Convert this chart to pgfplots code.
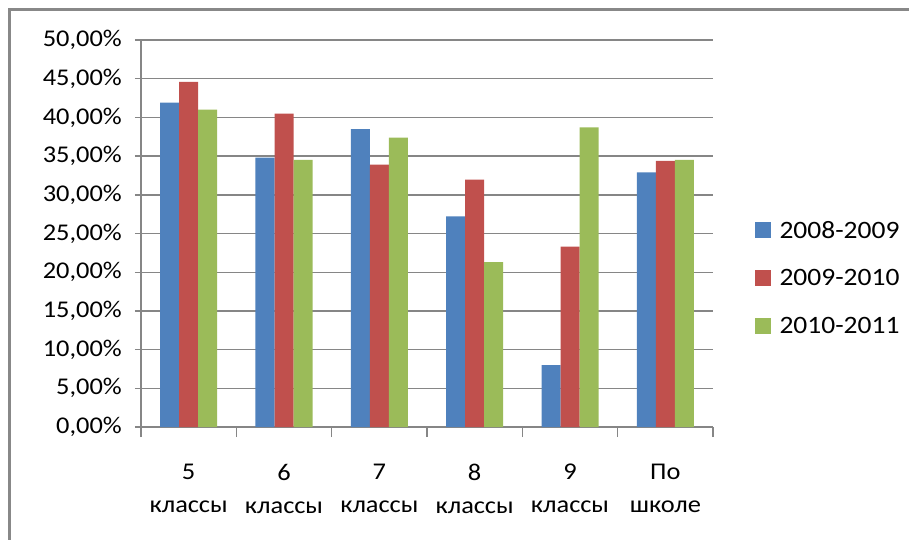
\documentclass[border=0pt]{standalone}
\usepackage{pgfplots}
\pgfplotsset{compat=1.18}
\usepackage{fontspec}
\setmainfont{Carlito}[FakeStretch=1.1]

\definecolor{s1}{HTML}{4F81BD}
\definecolor{s2}{HTML}{C0504D}
\definecolor{s3}{HTML}{9BBB59}
\definecolor{axisgray}{HTML}{868686}
\definecolor{framegray}{HTML}{888888}

\begin{document}
\begin{tikzpicture}
\useasboundingbox (-141pt,-112pt) rectangle (768pt,427pt);
% frame of the chart area (only top and left edges are visible)
\draw[framegray, line width=3pt] (1000pt,417pt) -- (-131pt,417pt) -- (-131pt,-300pt);
\begin{axis}[
    at={(0,0)}, anchor=south west,
    scale only axis,
    width=572pt, height=387pt,
    ybar=0pt, bar width=19pt,
    xmin=-0.5, xmax=5.5,
    ymin=0, ymax=50,
    axis x line*=bottom, axis y line*=left,
    axis line style={draw=axisgray, line width=1.4pt},
    ymajorgrids,
    major grid style={draw=axisgray, line width=1.4pt},
    ytick={0,5,...,50},
    yticklabels={{0,00\%},{5,00\%},{10,00\%},{15,00\%},{20,00\%},{25,00\%},{30,00\%},{35,00\%},{40,00\%},{45,00\%},{50,00\%}},
    xtick={0,...,5},
    xticklabels={5\\классы,6\\классы,7\\классы,8\\классы,9\\классы,По\\школе},
    minor xtick={-0.5,0.5,...,5.5},
    tick align=outside,
    major tick length=6pt, minor tick length=10pt,
    tick style={draw=axisgray, line width=1.4pt},
    major x tick style={draw=none},
    tick label style={font=\fontsize{24}{33}\selectfont},
    xticklabel style={align=center, inner sep=0pt, yshift=-31pt},
    yticklabel style={inner sep=0pt, xshift=-13pt},
    legend style={draw=none, fill=none, at={(1.067,0.385)}, anchor=west,
        font=\fontsize{25}{32}\selectfont, row sep=26pt, column sep=7pt},
    legend cell align=left,
    legend image code/.code={\fill[#1] (0pt,-8pt) rectangle (16pt,8pt);},
]
\addplot[fill=s1, draw=none] coordinates {(0,41.9) (1,34.8) (2,38.5) (3,27.2) (4,8.0) (5,32.9)};
\addplot[fill=s2, draw=none] coordinates {(0,44.6) (1,40.5) (2,33.9) (3,31.95) (4,23.3) (5,34.4)};
\addplot[fill=s3, draw=none] coordinates {(0,41.0) (1,34.5) (2,37.4) (3,21.3) (4,38.7) (5,34.5)};
\legend{2008-2009,2009-2010,2010-2011}
\end{axis}
\end{tikzpicture}
\end{document}
